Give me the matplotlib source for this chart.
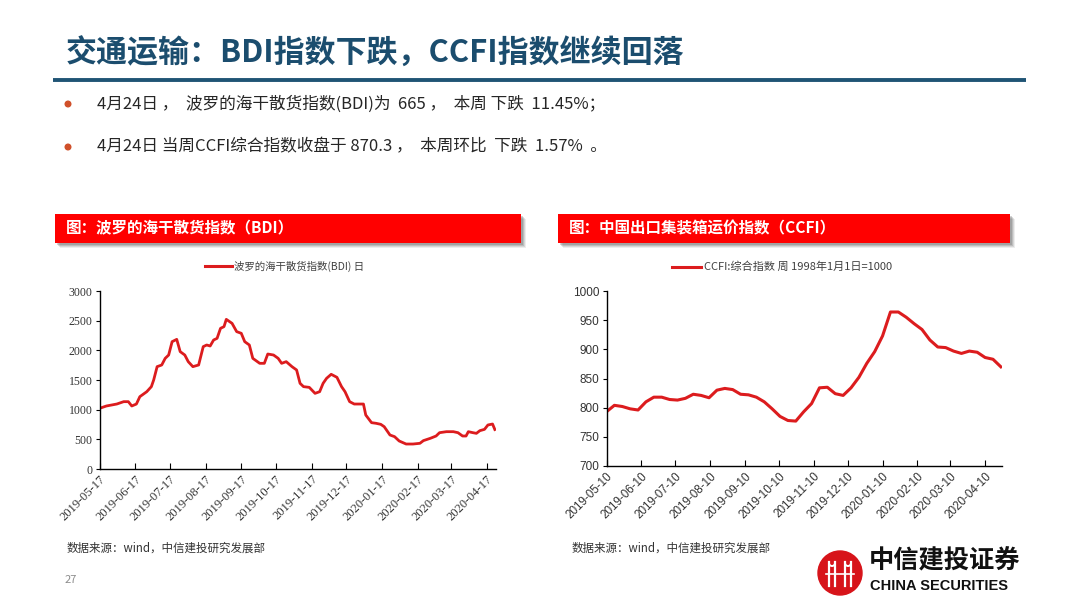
import matplotlib
matplotlib.use("Agg")
import matplotlib.pyplot as plt
import matplotlib.dates as mdates
from matplotlib.patches import Rectangle, Circle, Arc
import pandas as pd

plt.rcParams['font.family'] = ['Noto Sans CJK SC', 'DejaVu Sans']

# ---------------- data ----------------
title = "交通运输：BDI指数下跌，CCFI指数继续回落"
bullet1 = "4月24日 ，  波罗的海干散货指数(BDI)为  665 ，  本周 下跌  11.45%；"
bullet2 = "4月24日 当周CCFI综合指数收盘于 870.3 ，  本周环比  下跌  1.57%  。"
left_header = "图：波罗的海干散货指数（BDI）"
right_header = "图：中国出口集装箱运价指数（CCFI）"
bdi_label = "波罗的海干散货指数(BDI) 日"
ccfi_label = "CCFI:综合指数 周 1998年1月1日=1000"
source_text = "数据来源：wind，中信建投研究发展部"

bdi_dates = ["2019-05-17", "2019-05-23", "2019-06-01", "2019-06-07", "2019-06-11", "2019-06-14",
             "2019-06-18", "2019-06-21", "2019-06-27", "2019-07-01", "2019-07-03", "2019-07-06",
             "2019-07-10", "2019-07-13", "2019-07-16", "2019-07-19", "2019-07-23", "2019-07-26",
             "2019-07-30", "2019-08-02", "2019-08-06", "2019-08-11", "2019-08-15", "2019-08-18",
             "2019-08-21", "2019-08-24", "2019-08-27", "2019-08-30", "2019-09-02", "2019-09-04",
             "2019-09-09", "2019-09-13", "2019-09-17", "2019-09-20", "2019-09-24", "2019-09-27",
             "2019-10-03", "2019-10-07", "2019-10-10", "2019-10-15", "2019-10-19", "2019-10-22",
             "2019-10-26", "2019-10-31", "2019-11-04", "2019-11-07", "2019-11-10", "2019-11-15",
             "2019-11-20", "2019-11-24", "2019-11-27", "2019-11-30", "2019-12-04", "2019-12-09",
             "2019-12-13", "2019-12-16", "2019-12-20", "2019-12-24", "2020-01-01", "2020-01-03",
             "2020-01-08", "2020-01-12", "2020-01-16", "2020-01-19", "2020-01-24", "2020-01-28",
             "2020-02-01", "2020-02-07", "2020-02-13", "2020-02-19", "2020-02-22", "2020-02-28",
             "2020-03-04", "2020-03-07", "2020-03-13", "2020-03-19", "2020-03-23", "2020-03-27",
             "2020-03-30", "2020-04-01", "2020-04-05", "2020-04-08", "2020-04-11", "2020-04-15",
             "2020-04-18", "2020-04-22", "2020-04-24"]
bdi_values = [1022, 1062, 1095, 1135, 1135, 1062, 1095, 1219, 1303, 1388, 1500, 1725, 1753, 1865,
              1921, 2146, 2185, 1978, 1921, 1809, 1725, 1753, 2062, 2090, 2073, 2174, 2202, 2371,
              2399, 2522, 2455, 2315, 2287, 2146, 2090, 1865, 1781, 1781, 1938, 1921, 1865, 1781,
              1809, 1725, 1669, 1444, 1388, 1376, 1275, 1303, 1444, 1528, 1596, 1545, 1388, 1303,
              1135, 1095, 1095, 910, 781, 770, 753, 713, 573, 545, 472, 421, 421, 433, 478, 517,
              556, 612, 629, 629, 612, 556, 556, 629, 612, 601, 646, 668, 742, 758, 665]

ccfi_start = "2019-05-10"
ccfi_values = [793, 804, 802, 798, 796, 810, 818, 818, 814, 813, 816, 823, 821, 817, 830, 833, 831,
               823, 822, 818, 810, 798, 785, 778, 777, 793, 807, 834, 835, 824, 821, 834, 852, 876,
               896, 923, 964, 964, 955, 944, 934, 916, 904, 903, 897, 893, 897, 895, 886, 883, 870]

bdi_ticks = ["2019-05-17", "2019-06-17", "2019-07-17", "2019-08-17", "2019-09-17", "2019-10-17",
             "2019-11-17", "2019-12-17", "2020-01-17", "2020-02-17", "2020-03-17", "2020-04-17"]
ccfi_ticks = ["2019-05-10", "2019-06-10", "2019-07-10", "2019-08-10", "2019-09-10", "2019-10-10",
              "2019-11-10", "2019-12-10", "2020-01-10", "2020-02-10", "2020-03-10", "2020-04-10"]
bdi_yticks = [0, 500, 1000, 1500, 2000, 2500, 3000]
ccfi_yticks = [700, 750, 800, 850, 900, 950, 1000]

# ---------------- figure ----------------
W, H = 1080, 608
fig = plt.figure(figsize=(W / 100, H / 100), dpi=100)
fig.patch.set_facecolor("white")

bg = fig.add_axes([0, 0, 1, 1], zorder=0)
bg.set_xlim(0, W)
bg.set_ylim(H, 0)
bg.axis("off")

TITLE_C = "#1b4d6e"
LINE_RED = "#dc1c1e"

# title
bg.text(66, 54, title, fontsize=22.3, fontweight="bold", color=TITLE_C, va="center", ha="left")
bg.plot([53, 1026], [80, 80], color="#1f5475", lw=2.8, solid_capstyle="butt")

# bullets
for yb, txt in [(104, bullet1), (147, bullet2)]:
    bg.add_patch(Circle((68, yb), 2.8, color="#d0502a", zorder=3))
    bg.text(97, yb, txt, fontsize=12, color="#262626", va="center", ha="left")

# red headers with shadow
def header(x0, x1, y0, y1, txt):
    for off, a in [(5, 0.10), (4, 0.15), (3, 0.2), (2, 0.25)]:
        bg.add_patch(Rectangle((x0 + off, y0 + off), x1 - x0, y1 - y0, color="#555555",
                               alpha=a, lw=0, zorder=1))
    bg.add_patch(Rectangle((x0, y0), x1 - x0, y1 - y0, color="#ff0000", lw=0, zorder=2))
    bg.text(x0 + 11, (y0 + y1) / 2, txt, fontsize=11.2, fontweight="bold", color="white",
            va="center", ha="left", zorder=3)

header(55, 521, 214, 243, left_header)
header(558, 1010, 214, 243, right_header)

# legends
bg.plot([205, 232], [266, 266], color=LINE_RED, lw=2.2)
bg.text(234, 266, bdi_label, fontsize=7.5, color="#404040", va="center", ha="left")
bg.plot([672, 701], [267, 267], color=LINE_RED, lw=2.2)
bg.text(704, 267, ccfi_label, fontsize=8, color="#404040", va="center", ha="left")

# sources
bg.text(67, 548, source_text, fontsize=8.3, color="#333333", style="italic", va="center", ha="left")
bg.text(572, 548, source_text, fontsize=8.3, color="#333333", style="italic", va="center", ha="left")

# page number
bg.text(65, 580, "27", fontsize=8, color="#8c8c8c", va="center", ha="left")

# logo
bg.add_patch(Circle((840, 573), 22, color="#d7141a", zorder=2))
for xv in [829, 835, 845, 851]:
    bg.plot([xv, xv], [562, 586], color="white", lw=1.6, zorder=3)
bg.add_patch(Arc((832, 563), 6, 6, theta1=0, theta2=180, color="white", lw=1.4, zorder=3))
bg.add_patch(Arc((848, 563), 6, 6, theta1=0, theta2=180, color="white", lw=1.4, zorder=3))
bg.plot([826, 854], [574, 574], color="white", lw=1.2, zorder=3)
bg.text(869, 561, "中信建投证券", fontsize=18.2, fontweight="bold", color="#111111",
        va="center", ha="left")
bg.text(870, 586, "CHINA SECURITIES", fontsize=10.5, fontweight="bold", color="#111111",
        va="center", ha="left", family=["Liberation Sans", "DejaVu Sans"])


def px_axes(x0, y0, x1, y1):
    return fig.add_axes([x0 / W, 1 - y1 / H, (x1 - x0) / W, (y1 - y0) / H], zorder=2)


def style_axes(ax, fam, xsize):
    for s in ["top", "right"]:
        ax.spines[s].set_visible(False)
    for s in ["left", "bottom"]:
        ax.spines[s].set_color("#000000")
        ax.spines[s].set_linewidth(1.0)
    ax.patch.set_alpha(0)
    ax.tick_params(axis="y", direction="out", length=3, width=0.8, labelsize=8.5,
                   colors="#000000", labelcolor="#333333", pad=2)
    ax.tick_params(axis="x", direction="in", length=4, width=0.8, labelsize=xsize,
                   colors="#000000", labelcolor="#333333", pad=3)
    for lab in ax.get_yticklabels():
        lab.set_family(fam)
    for lab in ax.get_xticklabels():
        lab.set_family(fam)
        lab.set_rotation(45)
        lab.set_ha("right")
        lab.set_va("top")
        lab.set_rotation_mode("anchor")


# left chart: BDI
ax1 = px_axes(99.5, 291, 496, 469)
ax1.plot(pd.to_datetime(bdi_dates), bdi_values, color=LINE_RED, lw=2.0, solid_joinstyle="round")
ax1.set_ylim(0, 3000)
ax1.set_yticks(bdi_yticks)
ax1.set_xlim(pd.Timestamp("2019-05-17"), pd.Timestamp("2020-04-25"))
ax1.set_xticks(pd.to_datetime(bdi_ticks))
ax1.xaxis.set_major_formatter(mdates.DateFormatter("%Y-%m-%d"))
style_axes(ax1, ["Liberation Serif", "DejaVu Serif"], 9)

# right chart: CCFI
ax2 = px_axes(606.5, 291, 1002, 466)
ccfi_dates = pd.date_range(ccfi_start, periods=len(ccfi_values), freq="7D")
ax2.plot(ccfi_dates, ccfi_values, color=LINE_RED, lw=2.2, solid_joinstyle="round")
ax2.set_ylim(700, 1000)
ax2.set_yticks(ccfi_yticks)
ax2.set_xlim(pd.Timestamp("2019-05-10"), pd.Timestamp("2020-04-25"))
ax2.set_xticks(pd.to_datetime(ccfi_ticks))
ax2.xaxis.set_major_formatter(mdates.DateFormatter("%Y-%m-%d"))
style_axes(ax2, ["Liberation Sans", "DejaVu Sans"], 8.4)

fig.savefig("out.png", dpi=100, facecolor="white")
